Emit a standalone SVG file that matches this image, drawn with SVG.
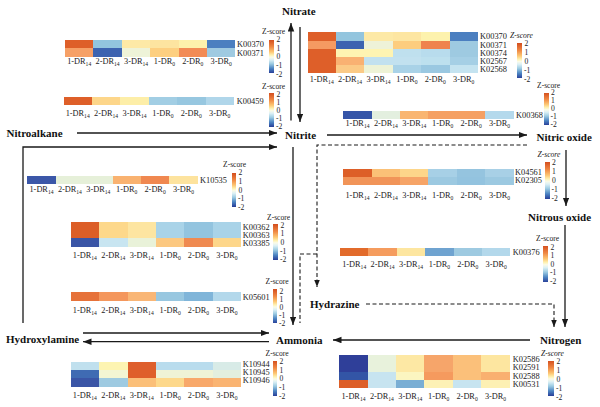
<svg xmlns="http://www.w3.org/2000/svg" width="600" height="407" viewBox="0 0 600 407">
<style>
.lb{font-family:"Liberation Serif",serif;font-weight:bold;font-size:11px;fill:#111}
.k{font-family:"Liberation Serif",serif;font-size:8.4px;fill:#222}
.c{font-family:"Liberation Serif",serif;font-size:8.3px;fill:#222;text-anchor:middle}
.z{font-family:"Liberation Serif",serif;font-size:7.6px;fill:#222}
.zi{font-style:italic}
.ln{fill:none;stroke:#1a1a1a;stroke-width:1.3}
.ds{fill:none;stroke:#1a1a1a;stroke-width:1.1;stroke-dasharray:4 2.5}
.hm rect{shape-rendering:crispEdges}
</style>
<defs>
<linearGradient id="zg" x1="0" y1="0" x2="0" y2="1">
<stop offset="0" stop-color="#d44f1f"/>
<stop offset="0.2" stop-color="#ef8743"/>
<stop offset="0.36" stop-color="#fdc774"/>
<stop offset="0.46" stop-color="#fef2b4"/>
<stop offset="0.52" stop-color="#fbfbe8"/>
<stop offset="0.6" stop-color="#dcf0f5"/>
<stop offset="0.72" stop-color="#9ccbe2"/>
<stop offset="0.86" stop-color="#4c84c2"/>
<stop offset="1" stop-color="#283e98"/>
</linearGradient>
<marker id="ah" markerUnits="userSpaceOnUse" markerWidth="9" markerHeight="7" refX="8.5" refY="3.25" orient="auto">
<path d="M0,0 L8.5,3.25 L0,6.5 z" fill="#1a1a1a"/>
</marker>
<marker id="ahd" markerUnits="userSpaceOnUse" markerWidth="7" markerHeight="6" refX="7" refY="2.75" orient="auto">
<path d="M0,0 L7,2.75 L0,5.5 z" fill="#1a1a1a"/>
</marker>
</defs>

<g id="connectors">
<line class="ln" x1="291" y1="120.5" x2="291" y2="23" marker-end="url(#ah)"/>
<line class="ln" x1="300" y1="27" x2="300" y2="122" marker-end="url(#ah)"/>
<line class="ln" x1="77" y1="133" x2="277" y2="133" marker-end="url(#ah)"/>
<polyline class="ln" points="23,323 23,147 277,147" marker-end="url(#ah)"/>
<line class="ln" x1="293" y1="147" x2="293" y2="325" marker-end="url(#ah)"/>
<line class="ln" x1="327" y1="135" x2="527" y2="135" marker-end="url(#ah)"/>
<line class="ln" x1="566" y1="150" x2="566" y2="206" marker-end="url(#ah)"/>
<line class="ln" x1="565" y1="225" x2="565" y2="327" marker-end="url(#ah)"/>
<line class="ln" x1="530" y1="340" x2="333" y2="340" marker-end="url(#ah)"/>
<line class="ln" x1="83" y1="333" x2="269" y2="333" marker-end="url(#ah)"/>
<line class="ln" x1="269" y1="341.7" x2="83" y2="341.7" marker-end="url(#ah)"/>
<polyline class="ds" points="527,145 317,145 317,287" marker-end="url(#ahd)"/>
<polyline class="ds" points="317,254 300,254 300,323"/>
<polyline class="ds" points="366,304 554,304 554,327" marker-end="url(#ahd)"/>
</g>

<g id="node-nitrate"><text class="lb" x="282" y="15">Nitrate</text></g>
<g id="node-nitrite"><text class="lb" x="285" y="139">Nitrite</text></g>
<g id="node-nitroalkane"><text class="lb" x="6.5" y="137">Nitroalkane</text></g>
<g id="node-nitric-oxide"><text class="lb" x="536.5" y="140.5">Nitric oxide</text></g>
<g id="node-nitrous-oxide"><text class="lb" x="528" y="221">Nitrous oxide</text></g>
<g id="node-hydrazine"><text class="lb" x="310" y="307.5">Hydrazine</text></g>
<g id="node-nitrogen"><text class="lb" x="540" y="344">Nitrogen</text></g>
<g id="node-ammonia"><text class="lb" x="276" y="344">Ammonia</text></g>
<g id="node-hydroxylamine"><text class="lb" x="6" y="343">Hydroxylamine</text></g>

<!-- Heatmap 1 -->
<g id="hm1" class="hm">
<g transform="translate(65,40)">
<rect x="0" y="0" width="28.5" height="8.3" fill="#de5f29"/><rect x="28.4" y="0" width="28.5" height="8.3" fill="#92c5de"/><rect x="56.8" y="0" width="28.5" height="8.3" fill="#fde9a6"/><rect x="85.2" y="0" width="28.5" height="8.3" fill="#fde4a0"/><rect x="113.6" y="0" width="28.5" height="8.3" fill="#fdf1ac"/><rect x="142" y="0" width="28.4" height="8.3" fill="#4b7fc0"/>
<rect x="0" y="8.3" width="28.5" height="8.3" fill="#f6a066"/><rect x="28.4" y="8.3" width="28.5" height="8.3" fill="#3c63b0"/><rect x="56.8" y="8.3" width="28.5" height="8.3" fill="#eef3d8"/><rect x="85.2" y="8.3" width="28.5" height="8.3" fill="#fdcf80"/><rect x="113.6" y="8.3" width="28.5" height="8.3" fill="#f28b55"/><rect x="142" y="8.3" width="28.4" height="8.3" fill="#9fcae1"/>
</g>
<text class="k" x="237" y="47.2">K00370</text><text class="k" x="237" y="55.5">K00371</text>
<g transform="translate(65,64)"><text class="c" x="14.2">1-DR<tspan font-size="5.6" dy="1.8">14</tspan></text><text class="c" x="42.6">2-DR<tspan font-size="5.6" dy="1.8">14</tspan></text><text class="c" x="71">3-DR<tspan font-size="5.6" dy="1.8">14</tspan></text><text class="c" x="99.4">1-DR<tspan font-size="5.6" dy="1.8">0</tspan></text><text class="c" x="127.8">2-DR<tspan font-size="5.6" dy="1.8">0</tspan></text><text class="c" x="156.2">3-DR<tspan font-size="5.6" dy="1.8">0</tspan></text></g>
<text class="z" x="262" y="33.5">Z-score</text>
<rect x="269.3" y="40" width="4.7" height="33" fill="url(#zg)"/>
<g class="z"><text x="276.5" y="41.8">2</text><text x="276.5" y="50.5">1</text><text x="276.5" y="59.3">0</text><text x="276" y="68">-1</text><text x="276" y="77">-2</text></g>
</g>

<!-- Heatmap 2 -->
<g id="hm2" class="hm">
<g transform="translate(63.5,97.3)">
<rect x="0" y="0" width="28.5" height="7.8" fill="#de5f29"/><rect x="28.4" y="0" width="28.5" height="7.8" fill="#fdd68a"/><rect x="56.8" y="0" width="28.5" height="7.8" fill="#fdeea8"/><rect x="85.2" y="0" width="28.5" height="7.8" fill="#a2cee4"/><rect x="113.6" y="0" width="28.5" height="7.8" fill="#97c7e0"/><rect x="142" y="0" width="28.4" height="7.8" fill="#b0d6ea"/>
</g>
<text class="k" x="236.7" y="104">K00459</text>
<g transform="translate(63.5,116)"><text class="c" x="14.2">1-DR<tspan font-size="5.6" dy="1.8">14</tspan></text><text class="c" x="42.6">2-DR<tspan font-size="5.6" dy="1.8">14</tspan></text><text class="c" x="71">3-DR<tspan font-size="5.6" dy="1.8">14</tspan></text><text class="c" x="99.4">1-DR<tspan font-size="5.6" dy="1.8">0</tspan></text><text class="c" x="127.8">2-DR<tspan font-size="5.6" dy="1.8">0</tspan></text><text class="c" x="156.2">3-DR<tspan font-size="5.6" dy="1.8">0</tspan></text></g>
<text class="z" x="262" y="88.5">Z-score</text>
<rect x="269.3" y="93" width="4.7" height="34" fill="url(#zg)"/>
<g class="z"><text x="276.5" y="97">2</text><text x="276.5" y="105">1</text><text x="276.5" y="113">0</text><text x="276" y="121">-1</text><text x="276" y="129">-2</text></g>
</g>

<!-- Heatmap 3 -->
<g id="hm3" class="hm">
<g transform="translate(307.5,32.3)">
<rect x="0" y="0" width="28.5" height="8.3" fill="#de5f29"/><rect x="28.4" y="0" width="28.5" height="8.3" fill="#93c5de"/><rect x="56.8" y="0" width="28.5" height="8.3" fill="#fde9a6"/><rect x="85.2" y="0" width="28.5" height="8.3" fill="#fde6a2"/><rect x="113.6" y="0" width="28.5" height="8.3" fill="#fdf2ad"/><rect x="142" y="0" width="28.4" height="8.3" fill="#4b7fc0"/>
<rect x="0" y="8.2" width="28.5" height="8.3" fill="#f59a62"/><rect x="28.4" y="8.2" width="28.5" height="8.3" fill="#3c63b0"/><rect x="56.8" y="8.2" width="28.5" height="8.3" fill="#eef2d8"/><rect x="85.2" y="8.2" width="28.5" height="8.3" fill="#fdcd7e"/><rect x="113.6" y="8.2" width="28.5" height="8.3" fill="#ef834e"/><rect x="142" y="8.2" width="28.4" height="8.3" fill="#9ecae1"/>
<rect x="0" y="16.4" width="28.5" height="8.3" fill="#de5f29"/><rect x="28.4" y="16.4" width="28.5" height="8.3" fill="#fef4b2"/><rect x="56.8" y="16.4" width="28.5" height="8.3" fill="#fef4b2"/><rect x="85.2" y="16.4" width="28.5" height="8.3" fill="#bfe0ee"/><rect x="113.6" y="16.4" width="28.5" height="8.3" fill="#b8dced"/><rect x="142" y="16.4" width="28.4" height="8.3" fill="#9ecae1"/>
<rect x="0" y="24.6" width="28.5" height="8.3" fill="#de5f29"/><rect x="28.4" y="24.6" width="28.5" height="8.3" fill="#f9b172"/><rect x="56.8" y="24.6" width="28.5" height="8.3" fill="#c2e1ef"/><rect x="85.2" y="24.6" width="28.5" height="8.3" fill="#c2e1ef"/><rect x="113.6" y="24.6" width="28.5" height="8.3" fill="#bde0ee"/><rect x="142" y="24.6" width="28.4" height="8.3" fill="#a5cfe5"/>
<rect x="0" y="32.8" width="28.5" height="8.2" fill="#de5f29"/><rect x="28.4" y="32.8" width="28.5" height="8.2" fill="#fbca86"/><rect x="56.8" y="32.8" width="28.5" height="8.2" fill="#eef3d6"/><rect x="85.2" y="32.8" width="28.5" height="8.2" fill="#a9d2e7"/><rect x="113.6" y="32.8" width="28.5" height="8.2" fill="#9ac8e1"/><rect x="142" y="32.8" width="28.4" height="8.2" fill="#c4e3f0"/>
</g>
<text class="k" x="480" y="39.4">K00370</text><text class="k" x="480" y="47.6">K00371</text><text class="k" x="480" y="55.8">K00374</text><text class="k" x="480" y="64">K02567</text><text class="k" x="480" y="72.2">K02568</text>
<g transform="translate(307.5,81.7)"><text class="c" x="14.2">1-DR<tspan font-size="5.6" dy="1.8">14</tspan></text><text class="c" x="42.6">2-DR<tspan font-size="5.6" dy="1.8">14</tspan></text><text class="c" x="71">3-DR<tspan font-size="5.6" dy="1.8">14</tspan></text><text class="c" x="99.4">1-DR<tspan font-size="5.6" dy="1.8">0</tspan></text><text class="c" x="127.8">2-DR<tspan font-size="5.6" dy="1.8">0</tspan></text><text class="c" x="156.2">3-DR<tspan font-size="5.6" dy="1.8">0</tspan></text></g>
<text class="z zi" x="510" y="38">Z-score</text>
<rect x="517" y="43.3" width="5" height="35" fill="url(#zg)"/>
<g class="z"><text x="524.5" y="46">2</text><text x="524.5" y="55">1</text><text x="524.5" y="64">0</text><text x="524" y="73">-1</text><text x="524" y="82">-2</text></g>
</g>

<!-- Heatmap 4 -->
<g id="hm4" class="hm">
<g transform="translate(343.3,111)">
<rect x="0" y="0" width="28.5" height="8" fill="#3555a8"/><rect x="28.4" y="0" width="28.5" height="8" fill="#e3efdf"/><rect x="56.8" y="0" width="28.5" height="8" fill="#f9b571"/><rect x="85.2" y="0" width="28.5" height="8" fill="#f5a063"/><rect x="113.6" y="0" width="28.5" height="8" fill="#f5a063"/><rect x="142" y="0" width="28.4" height="8" fill="#b4d9ec"/>
</g>
<text class="k" x="516" y="118">K00368</text>
<g transform="translate(343.3,126)"><text class="c" x="14.2">1-DR<tspan font-size="5.6" dy="1.8">14</tspan></text><text class="c" x="42.6">2-DR<tspan font-size="5.6" dy="1.8">14</tspan></text><text class="c" x="71">3-DR<tspan font-size="5.6" dy="1.8">14</tspan></text><text class="c" x="99.4">1-DR<tspan font-size="5.6" dy="1.8">0</tspan></text><text class="c" x="127.8">2-DR<tspan font-size="5.6" dy="1.8">0</tspan></text><text class="c" x="156.2">3-DR<tspan font-size="5.6" dy="1.8">0</tspan></text></g>
<text class="z" x="537" y="87.5">Z-score</text>
<rect x="543.5" y="92.7" width="5" height="32.5" fill="url(#zg)"/>
<g class="z"><text x="551" y="95.3">2</text><text x="551" y="103.3">1</text><text x="551" y="111.3">0</text><text x="550.5" y="119.3">-1</text><text x="550.5" y="127.3">-2</text></g>
</g>

<!-- Heatmap 5 -->
<g id="hm5" class="hm">
<g transform="translate(343.3,169.3)">
<rect x="0" y="0" width="28.5" height="8" fill="#dd5f28"/><rect x="28.4" y="0" width="28.5" height="8" fill="#fbc177"/><rect x="56.8" y="0" width="28.5" height="8" fill="#fdd68a"/><rect x="85.2" y="0" width="28.5" height="8" fill="#a7d0e6"/><rect x="113.6" y="0" width="28.5" height="8" fill="#95c4df"/><rect x="142" y="0" width="28.4" height="8" fill="#a8d0e6"/>
<rect x="0" y="7.9" width="28.5" height="7.9" fill="#f19458"/><rect x="28.4" y="7.9" width="28.5" height="7.9" fill="#f19458"/><rect x="56.8" y="7.9" width="28.5" height="7.9" fill="#f6a467"/><rect x="85.2" y="7.9" width="28.5" height="7.9" fill="#9cc9e1"/><rect x="113.6" y="7.9" width="28.5" height="7.9" fill="#93c3df"/><rect x="142" y="7.9" width="28.4" height="7.9" fill="#9cc9e1"/>
</g>
<text class="k" x="515" y="175">K04561</text><text class="k" x="515" y="183">K02305</text>
<g transform="translate(343.3,198)"><text class="c" x="14.2">1-DR<tspan font-size="5.6" dy="1.8">14</tspan></text><text class="c" x="42.6">2-DR<tspan font-size="5.6" dy="1.8">14</tspan></text><text class="c" x="71">3-DR<tspan font-size="5.6" dy="1.8">14</tspan></text><text class="c" x="99.4">1-DR<tspan font-size="5.6" dy="1.8">0</tspan></text><text class="c" x="127.8">2-DR<tspan font-size="5.6" dy="1.8">0</tspan></text><text class="c" x="156.2">3-DR<tspan font-size="5.6" dy="1.8">0</tspan></text></g>
<text class="z zi" x="537.5" y="157">Z-score</text>
<rect x="545" y="162" width="4.6" height="37" fill="url(#zg)"/>
<g class="z"><text x="552" y="164.7">2</text><text x="552" y="173.8">1</text><text x="552" y="182.9">0</text><text x="551.5" y="192">-1</text><text x="551.5" y="201">-2</text></g>
</g>

<!-- Heatmap 6 -->
<g id="hm6" class="hm">
<g transform="translate(340,247.7)">
<rect x="0" y="0" width="28.5" height="8.3" fill="#e26b2b"/><rect x="28.4" y="0" width="28.5" height="8.3" fill="#f59c5e"/><rect x="56.8" y="0" width="28.5" height="8.3" fill="#fde6a0"/><rect x="85.2" y="0" width="28.5" height="8.3" fill="#6fa3d0"/><rect x="113.6" y="0" width="28.5" height="8.3" fill="#9ecae1"/><rect x="142" y="0" width="28.4" height="8.3" fill="#b3d8eb"/>
</g>
<text class="k" x="512.7" y="254.7">K00376</text>
<g transform="translate(340,266.7)"><text class="c" x="14.2">1-DR<tspan font-size="5.6" dy="1.8">14</tspan></text><text class="c" x="42.6">2-DR<tspan font-size="5.6" dy="1.8">14</tspan></text><text class="c" x="71">3-DR<tspan font-size="5.6" dy="1.8">14</tspan></text><text class="c" x="99.4">1-DR<tspan font-size="5.6" dy="1.8">0</tspan></text><text class="c" x="127.8">2-DR<tspan font-size="5.6" dy="1.8">0</tspan></text><text class="c" x="156.2">3-DR<tspan font-size="5.6" dy="1.8">0</tspan></text></g>
<text class="z" x="536" y="240.5">Z-score</text>
<rect x="543.3" y="245.7" width="5" height="36.6" fill="url(#zg)"/>
<g class="z"><text x="550.5" y="249.5">2</text><text x="550.5" y="258.2">1</text><text x="550.5" y="266.8">0</text><text x="550" y="275.4">-1</text><text x="550" y="284">-2</text></g>
</g>

<!-- Heatmap 7 -->
<g id="hm7" class="hm">
<g transform="translate(27.3,176)">
<rect x="0" y="0" width="28.5" height="8" fill="#3b57a8"/><rect x="28.4" y="0" width="28.5" height="8" fill="#e6f0d9"/><rect x="56.8" y="0" width="28.5" height="8" fill="#e6f0d9"/><rect x="85.2" y="0" width="28.5" height="8" fill="#f9b270"/><rect x="113.6" y="0" width="28.5" height="8" fill="#f08850"/><rect x="142" y="0" width="28.4" height="8" fill="#fde39e"/>
</g>
<text class="k" x="200" y="183">K10535</text>
<g transform="translate(27.3,191.7)"><text class="c" x="14.2">1-DR<tspan font-size="5.6" dy="1.8">14</tspan></text><text class="c" x="42.6">2-DR<tspan font-size="5.6" dy="1.8">14</tspan></text><text class="c" x="71">3-DR<tspan font-size="5.6" dy="1.8">14</tspan></text><text class="c" x="99.4">1-DR<tspan font-size="5.6" dy="1.8">0</tspan></text><text class="c" x="127.8">2-DR<tspan font-size="5.6" dy="1.8">0</tspan></text><text class="c" x="156.2">3-DR<tspan font-size="5.6" dy="1.8">0</tspan></text></g>
<text class="z" x="223" y="167.2">Z-score</text>
<rect x="231.7" y="173.3" width="4.4" height="33.4" fill="url(#zg)"/>
<g class="z"><text x="238.5" y="175.3">2</text><text x="238.5" y="184">1</text><text x="238.5" y="192.7">0</text><text x="238" y="201.4">-1</text><text x="238" y="210.3">-2</text></g>
</g>

<!-- Heatmap 8 -->
<g id="hm8" class="hm">
<g transform="translate(70.7,221.7)">
<rect x="0" y="0" width="28.5" height="16.7" fill="#dc5e27"/><rect x="28.4" y="0" width="28.5" height="16.7" fill="#fdd88b"/><rect x="56.8" y="0" width="28.5" height="16.7" fill="#fde5a1"/><rect x="85.2" y="0" width="28.5" height="16.7" fill="#a9d3e8"/><rect x="113.6" y="0" width="28.5" height="16.7" fill="#93c4df"/><rect x="142" y="0" width="28.4" height="16.7" fill="#a9d3e8"/>
<rect x="0" y="16.66" width="28.5" height="8.34" fill="#3a55a6"/><rect x="28.4" y="16.66" width="28.5" height="8.34" fill="#c8e5f1"/><rect x="56.8" y="16.66" width="28.5" height="8.34" fill="#e9f2d9"/><rect x="85.2" y="16.66" width="28.5" height="8.34" fill="#fcc880"/><rect x="113.6" y="16.66" width="28.5" height="8.34" fill="#ef8a51"/><rect x="142" y="16.66" width="28.4" height="8.34" fill="#fdd68a"/>
</g>
<text class="k" x="242.7" y="229.7">K00362</text><text class="k" x="242.7" y="238">K00363</text><text class="k" x="242.7" y="245.5">K03385</text>
<g transform="translate(70.7,258.3)"><text class="c" x="14.2">1-DR<tspan font-size="5.6" dy="1.8">14</tspan></text><text class="c" x="42.6">2-DR<tspan font-size="5.6" dy="1.8">14</tspan></text><text class="c" x="71">3-DR<tspan font-size="5.6" dy="1.8">14</tspan></text><text class="c" x="99.4">1-DR<tspan font-size="5.6" dy="1.8">0</tspan></text><text class="c" x="127.8">2-DR<tspan font-size="5.6" dy="1.8">0</tspan></text><text class="c" x="156.2">3-DR<tspan font-size="5.6" dy="1.8">0</tspan></text></g>
<text class="z" x="267" y="219.8">Z-score</text>
<rect x="273.3" y="224.3" width="5" height="35.7" fill="url(#zg)"/>
<g class="z"><text x="280.5" y="227.5">2</text><text x="280.5" y="236.2">1</text><text x="280.5" y="244.9">0</text><text x="280" y="253.6">-1</text><text x="280" y="262.3">-2</text></g>
</g>

<!-- Heatmap 9 -->
<g id="hm9" class="hm">
<g transform="translate(70.7,292.3)">
<rect x="0" y="0" width="28.5" height="8.3" fill="#e6723a"/><rect x="28.4" y="0" width="28.5" height="8.3" fill="#f4975d"/><rect x="56.8" y="0" width="28.5" height="8.3" fill="#f9b676"/><rect x="85.2" y="0" width="28.5" height="8.3" fill="#98c7e0"/><rect x="113.6" y="0" width="28.5" height="8.3" fill="#80b5d9"/><rect x="142" y="0" width="28.4" height="8.3" fill="#b3d8eb"/>
</g>
<text class="k" x="242.7" y="299.7">K05601</text>
<g transform="translate(70.7,312.7)"><text class="c" x="14.2">1-DR<tspan font-size="5.6" dy="1.8">14</tspan></text><text class="c" x="42.6">2-DR<tspan font-size="5.6" dy="1.8">14</tspan></text><text class="c" x="71">3-DR<tspan font-size="5.6" dy="1.8">14</tspan></text><text class="c" x="99.4">1-DR<tspan font-size="5.6" dy="1.8">0</tspan></text><text class="c" x="127.8">2-DR<tspan font-size="5.6" dy="1.8">0</tspan></text><text class="c" x="156.2">3-DR<tspan font-size="5.6" dy="1.8">0</tspan></text></g>
<text class="z" x="265.5" y="284">Z-score</text>
<rect x="272.7" y="289.3" width="4.6" height="34" fill="url(#zg)"/>
<g class="z"><text x="279.5" y="294">2</text><text x="279.5" y="302">1</text><text x="279.5" y="310">0</text><text x="279" y="318.2">-1</text><text x="279" y="326.3">-2</text></g>
</g>

<!-- Heatmap 10 -->
<g id="hm10" class="hm">
<g transform="translate(70.7,361.7)">
<rect x="0" y="0" width="28.5" height="8.4" fill="#c0e0ee"/><rect x="28.4" y="0" width="28.5" height="8.4" fill="#fdf4b2"/><rect x="56.8" y="0" width="28.5" height="8.4" fill="#de5f2d"/><rect x="85.2" y="0" width="28.5" height="8.4" fill="#b9dced"/><rect x="113.6" y="0" width="28.5" height="8.4" fill="#b9dced"/><rect x="142" y="0" width="28.4" height="8.4" fill="#d8ebe7"/>
<rect x="0" y="8.33" width="28.5" height="8.4" fill="#3f6bb3"/><rect x="28.4" y="8.33" width="28.5" height="8.4" fill="#f3f5d3"/><rect x="56.8" y="8.33" width="28.5" height="8.4" fill="#df5f2a"/><rect x="85.2" y="8.33" width="28.5" height="8.4" fill="#eff3d6"/><rect x="113.6" y="8.33" width="28.5" height="8.4" fill="#eff3d6"/><rect x="142" y="8.33" width="28.4" height="8.4" fill="#e3efdf"/>
<rect x="0" y="16.66" width="28.5" height="8.34" fill="#3a55a6"/><rect x="28.4" y="16.66" width="28.5" height="8.34" fill="#9ecae1"/><rect x="56.8" y="16.66" width="28.5" height="8.34" fill="#fbbf78"/><rect x="85.2" y="16.66" width="28.5" height="8.34" fill="#fdd88b"/><rect x="113.6" y="16.66" width="28.5" height="8.34" fill="#f8a86a"/><rect x="142" y="16.66" width="28.4" height="8.34" fill="#fab472"/>
</g>
<text class="k" x="242.7" y="367">K10944</text><text class="k" x="242.7" y="374.7">K10945</text><text class="k" x="242.7" y="383">K10946</text>
<g transform="translate(70.7,398.3)"><text class="c" x="14.2">1-DR<tspan font-size="5.6" dy="1.8">14</tspan></text><text class="c" x="42.6">2-DR<tspan font-size="5.6" dy="1.8">14</tspan></text><text class="c" x="71">3-DR<tspan font-size="5.6" dy="1.8">14</tspan></text><text class="c" x="99.4">1-DR<tspan font-size="5.6" dy="1.8">0</tspan></text><text class="c" x="127.8">2-DR<tspan font-size="5.6" dy="1.8">0</tspan></text><text class="c" x="156.2">3-DR<tspan font-size="5.6" dy="1.8">0</tspan></text></g>
<text class="z" x="265.5" y="356.3">Z-score</text>
<rect x="272.7" y="360.7" width="4.6" height="35.3" fill="url(#zg)"/>
<g class="z"><text x="279.5" y="363.9">2</text><text x="279.5" y="372.6">1</text><text x="279.5" y="381.4">0</text><text x="279" y="390.1">-1</text><text x="279" y="399">-2</text></g>
</g>

<!-- Heatmap 11 -->
<g id="hm11" class="hm">
<g transform="translate(339.3,355)">
<rect x="0" y="0" width="28.5" height="16.7" fill="#2f3f99"/><rect x="28.4" y="0" width="28.5" height="16.7" fill="#e8f2dc"/><rect x="56.8" y="0" width="28.5" height="16.7" fill="#fde8a4"/><rect x="85.2" y="0" width="28.5" height="16.7" fill="#f6a56a"/><rect x="113.6" y="0" width="28.5" height="16.7" fill="#fbc07a"/><rect x="142" y="0" width="28.4" height="16.7" fill="#fde6a0"/>
<rect x="0" y="16.66" width="28.5" height="8.4" fill="#3355a6"/><rect x="28.4" y="16.66" width="28.5" height="16.7" fill="#c7e4f0"/><rect x="56.8" y="16.66" width="28.5" height="8.4" fill="#fbf5c0"/><rect x="85.2" y="16.66" width="28.5" height="8.4" fill="#f59a5e"/><rect x="113.6" y="16.66" width="28.5" height="8.4" fill="#fbc07a"/><rect x="142" y="16.66" width="28.4" height="8.4" fill="#f9b070"/>
<rect x="0" y="25" width="28.5" height="8.33" fill="#dd5f28"/><rect x="56.8" y="25" width="28.5" height="8.33" fill="#7aaed4"/><rect x="85.2" y="25" width="28.5" height="8.33" fill="#fdf1b5"/><rect x="113.6" y="25" width="28.5" height="8.33" fill="#c7e4f0"/><rect x="142" y="25" width="28.4" height="8.33" fill="#fdf0b3"/>
</g>
<text class="k" x="512.7" y="362.3">K02586</text><text class="k" x="512.7" y="370.3">K02591</text><text class="k" x="512.7" y="378.7">K02588</text><text class="k" x="512.7" y="387">K00531</text>
<g transform="translate(339.3,399.3)"><text class="c" x="14.2">1-DR<tspan font-size="5.6" dy="1.8">14</tspan></text><text class="c" x="42.6">2-DR<tspan font-size="5.6" dy="1.8">14</tspan></text><text class="c" x="71">3-DR<tspan font-size="5.6" dy="1.8">14</tspan></text><text class="c" x="99.4">1-DR<tspan font-size="5.6" dy="1.8">0</tspan></text><text class="c" x="127.8">2-DR<tspan font-size="5.6" dy="1.8">0</tspan></text><text class="c" x="156.2">3-DR<tspan font-size="5.6" dy="1.8">0</tspan></text></g>
<text class="z zi" x="541" y="355.5">Z-score</text>
<rect x="548.3" y="360.7" width="5.7" height="35.3" fill="url(#zg)"/>
<g class="z"><text x="556.5" y="363.9">2</text><text x="556.5" y="372.8">1</text><text x="556.5" y="381.7">0</text><text x="556" y="390.6">-1</text><text x="556" y="399.5">-2</text></g>
</g>
</svg>
